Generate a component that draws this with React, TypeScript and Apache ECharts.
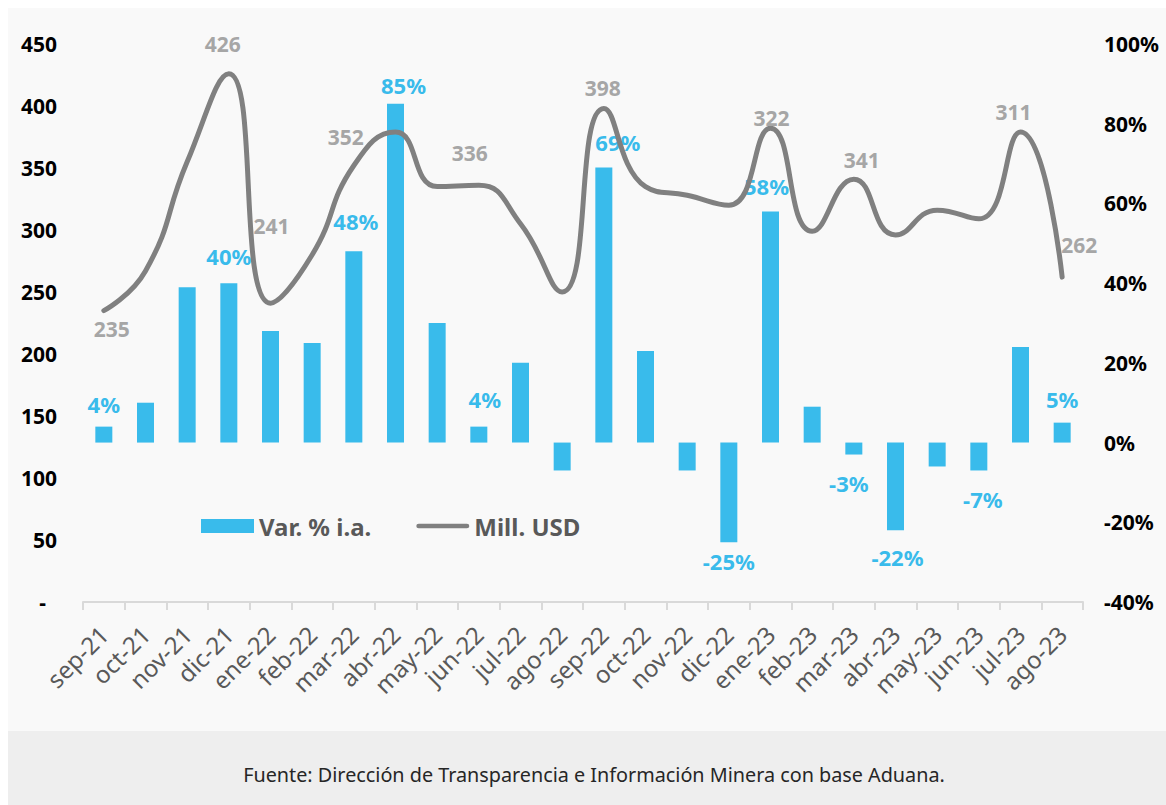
import React, { useEffect, useRef } from "react";
import * as echarts from "echarts";

const categories = [
  "sep-21", "oct-21", "nov-21", "dic-21", "ene-22", "feb-22", "mar-22", "abr-22",
  "may-22", "jun-22", "jul-22", "ago-22", "sep-22", "oct-22", "nov-22", "dic-22",
  "ene-23", "feb-23", "mar-23", "abr-23", "may-23", "jun-23", "jul-23", "ago-23",
];
// Var. % i.a. (right axis)
const varPct = [4, 10, 39, 40, 28, 25, 48, 85, 30, 4, 20, -7, 69, 23, -7, -25, 58, 9, -3, -22, -6, -7, 24, 5];
// Mill. USD (left axis), as drawn
const millUsd = [235, 267, 355, 426, 241, 280, 352, 379, 335, 336, 305, 250, 398, 335, 328, 320, 382, 299, 341, 296, 316, 309, 379, 262];
// Data labels shown on the line
const lineLabelText: (string | null)[] = [
  "235", null, null, "426", "241", null, "352", null, null, "336", null, null,
  "398", null, null, null, "322", null, "341", null, null, null, "311", "262",
];
// Data labels shown on bars
const barLabelShown = [0, 3, 6, 7, 9, 12, 15, 16, 18, 19, 21, 23];
const leftTicks = { min: 0, max: 450, interval: 50 };
const rightTicks = { min: -40, max: 100, interval: 20 };
const footerText = "Fuente: Dirección de Transparencia e Información Minera con base Aduana.";

const FONT = "Noto Sans";
const BAR_COLOR = "#39bbeb";
const LINE_COLOR = "#808080";

const lineLabelLayout: Record<number, { pos: string; off: [number, number] }> = {
  0: { pos: "bottom", off: [8, 3] },
  3: { pos: "top", off: [-6, -14] },
  4: { pos: "top", off: [1, -62] },
  6: { pos: "top", off: [-8, -13] },
  9: { pos: "top", off: [-9, -17] },
  12: { pos: "top", off: [-1, -5] },
  16: { pos: "top", off: [1, 5] },
  18: { pos: "top", off: [8, -4] },
  22: { pos: "top", off: [-7, -5] },
  23: { pos: "top", off: [17, -17] },
};
const barLabelOffset: Record<number, [number, number]> = {
  0: [0, -7],
  3: [0, -11],
  6: [2, -14],
  7: [8, -3],
  9: [6, -12],
  12: [14, -10],
  15: [0, 3],
  16: [-4, -9],
  18: [-5, 12],
  19: [2, 11],
  21: [4, 13],
  23: [0, -8],
};

const LINE_ICON = "path://M2.5,0 L53.5,0 A2.5,2.5 0 0 1 53.5,5 L2.5,5 A2.5,2.5 0 0 1 2.5,0 Z";

export default function App() {
  const ref = useRef<HTMLDivElement>(null);
  useEffect(() => {
    if (!ref.current) return;
    const chart = echarts.init(ref.current, undefined, { renderer: "svg" });
    const barData = varPct.map((v, i) => {
      const shown = barLabelShown.includes(i);
      return {
        value: v,
        label: shown
          ? {
              show: true,
              position: v >= 0 ? "top" : "bottom",
              offset: barLabelOffset[i] || [0, 0],
              formatter: `${v}%`,
            }
          : { show: false },
      };
    });
    const lineData = millUsd.map((v, i) => {
      const t = lineLabelText[i];
      const lay = lineLabelLayout[i];
      return {
        value: v,
        label: t
          ? { show: true, position: lay ? lay.pos : "top", offset: lay ? lay.off : [0, 0], formatter: t }
          : { show: false },
      };
    });
    chart.setOption({
      animation: false,
      backgroundColor: "#f9f9f9",
      textStyle: { fontFamily: FONT },
      grid: { left: 75, right: 83, top: 36, bottom: 203, containLabel: false },
      legend: {
        left: 188,
        top: 501,
        itemWidth: 53,
        itemHeight: 14,
        itemGap: 45,
        symbolKeepAspect: true,
        textStyle: { fontFamily: FONT, fontSize: 24, fontWeight: "bold", color: "#595959" },
        data: [
          { name: "Var. % i.a.", icon: "rect" },
          { name: "Mill. USD", icon: LINE_ICON },
        ],
      },
      xAxis: {
        type: "category",
        data: categories,
        axisLine: { show: true, onZero: false, lineStyle: { color: "#d9d9d9", width: 2 } },
        axisTick: { show: true, length: 8, lineStyle: { color: "#d9d9d9", width: 2 } },
        axisLabel: {
          rotate: 45,
          margin: 28,
          fontFamily: FONT,
          fontSize: 24,
          color: "#595959",
          interval: 0,
        },
        splitLine: { show: false },
      },
      yAxis: [
        {
          type: "value",
          position: "left",
          min: leftTicks.min,
          max: leftTicks.max,
          interval: leftTicks.interval,
          axisLine: { show: false },
          axisTick: { show: false },
          splitLine: { show: false },
          axisLabel: {
            margin: 26,
            fontFamily: FONT,
            fontSize: 21,
            fontWeight: "bold",
            color: "#000",
            formatter: (v: number) => (v === 0 ? "{d|-}" : String(v)),
            rich: { d: { fontFamily: FONT, fontSize: 21, fontWeight: "bold", color: "#000", padding: [0, 11, 0, 0] } },
          },
        },
        {
          type: "value",
          position: "right",
          min: rightTicks.min,
          max: rightTicks.max,
          interval: rightTicks.interval,
          axisLine: { show: false },
          axisTick: { show: false },
          splitLine: { show: false },
          axisLabel: {
            margin: 21,
            fontFamily: FONT,
            fontSize: 21,
            fontWeight: "bold",
            color: "#000",
            formatter: (v: number) => `${v}%`,
          },
        },
      ],
      series: [
        {
          name: "Var. % i.a.",
          type: "bar",
          yAxisIndex: 1,
          barWidth: 17,
          itemStyle: { color: BAR_COLOR },
          label: { fontFamily: FONT, fontSize: 22, fontWeight: "bold", color: BAR_COLOR },
          data: barData,
          z: 2,
        },
        {
          name: "Mill. USD",
          type: "line",
          yAxisIndex: 0,
          smooth: 0.5,
          symbol: "circle",
          symbolSize: 0,
          showSymbol: true,
          lineStyle: { color: LINE_COLOR, width: 5, cap: "round" },
          itemStyle: { color: LINE_COLOR },
          label: { fontFamily: FONT, fontSize: 21, fontWeight: "bold", color: "#a6a6a6" },
          data: lineData,
          z: 3,
        },
      ],
      graphic: [
        {
          type: "rect",
          left: 0,
          top: 723,
          shape: { width: 1158, height: 74 },
          style: { fill: "#eeeeee" },
          silent: true,
        },
        {
          type: "text",
          x: 586,
          y: 766,
          style: {
            text: footerText,
            fontFamily: FONT,
            fontSize: 19.8,
            fill: "#262626",
            textAlign: "center",
            textVerticalAlign: "middle",
          },
          silent: true,
        },
      ],
    });
    return () => chart.dispose();
  }, []);
  return (
    <div
      ref={ref}
      style={{ position: "absolute", left: 8, top: 8, width: 1158, height: 797 }}
    />
  );
}
